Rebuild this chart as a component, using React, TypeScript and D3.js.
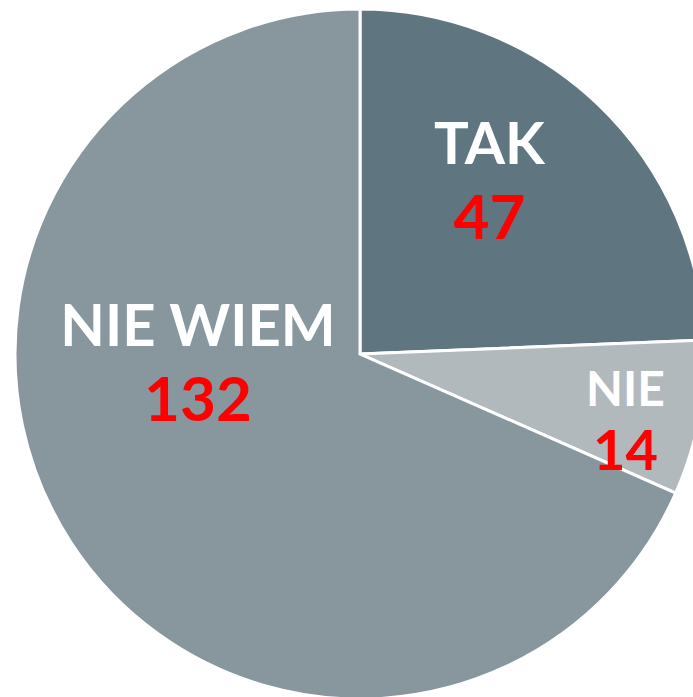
import React from "react";
import * as d3 from "d3";

const categories = ["TAK", "NIE", "NIE WIEM"];
const values = [47, 14, 132];
const colors = ["#5f7681", "#b2b9bc", "#88979e"];
// label placement: fraction within the slice's angle, fraction of radius
const labelAngleFrac = [0.417, 0.59, 0.624];
const labelRadiusFrac = [0.63, 0.79, 0.47];
const labelSize = [58, 48, 58];
const numberSize = [62, 56, 62];
const lineGap = [75, 64, 75];

const W = 693;
const H = 697;
const cx = 360;
const cy = 354;
const R = 345;

export default function App() {
  const pie = d3.pie<number>().sort(null).value((d) => d)(values);
  const arc = d3.arc<d3.PieArcDatum<number>>().innerRadius(0).outerRadius(R);
  return (
    <svg
      width={W}
      height={H}
      style={{ position: "absolute", left: 0, top: 0, background: "#fff" }}
    >
      <g transform={`translate(${cx},${cy})`}>
        {pie.map((p, i) => (
          <path key={i} d={arc(p) || ""} fill={colors[i]} stroke="#fff" strokeWidth={3} strokeLinejoin="miter" />
        ))}
        {pie.map((p, i) => {
          const a = p.startAngle + (p.endAngle - p.startAngle) * labelAngleFrac[i];
          const r = R * labelRadiusFrac[i];
          const x = r * Math.sin(a);
          const y = -r * Math.cos(a);
          const gap = lineGap[i];
          return (
            <g key={"l" + i} transform={`translate(${x},${y})`} fontFamily="Lato, 'Open Sans', sans-serif" fontWeight="bold" textAnchor="middle">
              <text y={-gap / 2 + 22} fill="#fff" fontSize={labelSize[i]}>
                {categories[i]}
              </text>
              <text y={gap / 2 + 22} fill="#ff0000" fontSize={numberSize[i]}>
                {values[i]}
              </text>
            </g>
          );
        })}
      </g>
    </svg>
  );
}
